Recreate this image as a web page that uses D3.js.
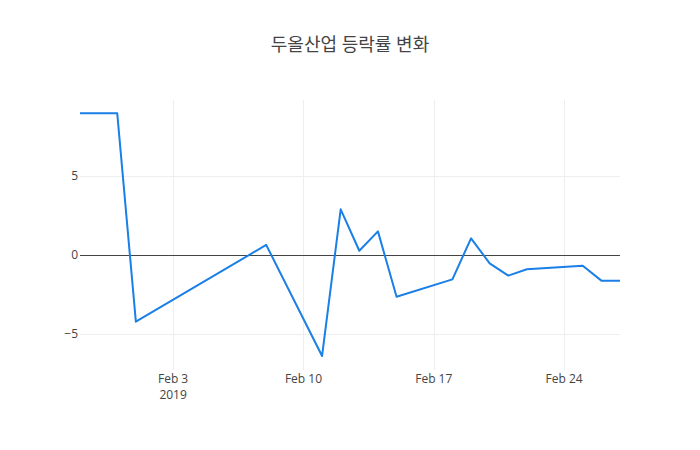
<!DOCTYPE html>
<html lang="ko">
<head>
<meta charset="utf-8">
<script src="https://cdn.jsdelivr.net/npm/d3@7"></script>
<style>
	body { margin: 0; background: #fff; }
	text { font-family: "Open Sans", "Noto Sans CJK KR", sans-serif; fill: #444; }
</style>
</head>
<body>
<div id="chart"></div>
<script>
	// data
	var dates = ["2019-01-29", "2019-01-30", "2019-01-31", "2019-02-01", "2019-02-08",
		"2019-02-11", "2019-02-12", "2019-02-13", "2019-02-14", "2019-02-15",
		"2019-02-18", "2019-02-19", "2019-02-20", "2019-02-21", "2019-02-22",
		"2019-02-25", "2019-02-26", "2019-02-27"];
	var changes = [9.0, 9.0, 9.0, -4.24, 0.64,
		-6.42, 2.9, 0.27, 1.5, -2.65,
		-1.55, 1.06, -0.53, -1.31, -0.91,
		-0.68, -1.63, -1.63];
	var xTicks = ["2019-02-03", "2019-02-10", "2019-02-17", "2019-02-24"];
	var yTicks = [-5, 0, 5];
	var title = "두올산업 등락률 변화";

	var w = 700, h = 450;
	var m = {top: 100, right: 80, bottom: 80, left: 80};
	var parse = d3.timeParse("%Y-%m-%d");

	var svg = d3.select("#chart").append("svg")
		.attr("width", w).attr("height", h);

	var x = d3.scaleTime()
		.domain([parse(dates[0]), parse(dates[dates.length - 1])])
		.range([m.left, w - m.right]);
	var y = d3.scaleLinear()
		.domain([-7.31, 9.85])
		.range([h - m.bottom, m.top]);

	// snap 1px lines to the pixel grid
	function crisp(v) { return Math.round(v) + 0.5; }

	// grid
	svg.append("g").selectAll("line").data(xTicks).enter().append("line")
		.attr("x1", function(d) { return crisp(x(parse(d))); })
		.attr("x2", function(d) { return crisp(x(parse(d))); })
		.attr("y1", m.top).attr("y2", h - m.bottom)
		.attr("stroke", "#eee").attr("stroke-width", 1);
	svg.append("g").selectAll("line").data(yTicks.filter(function(d) { return d !== 0; })).enter().append("line")
		.attr("x1", m.left).attr("x2", w - m.right)
		.attr("y1", function(d) { return crisp(y(d)); })
		.attr("y2", function(d) { return crisp(y(d)); })
		.attr("stroke", "#eee").attr("stroke-width", 1);

	// zero line
	svg.append("line")
		.attr("x1", m.left).attr("x2", w - m.right)
		.attr("y1", crisp(y(0))).attr("y2", crisp(y(0)))
		.attr("stroke", "#444").attr("stroke-width", 1);

	// y labels
	svg.append("g").selectAll("text").data(yTicks).enter().append("text")
		.attr("x", m.left - 2)
		.attr("y", function(d) { return y(d) + 4; })
		.attr("text-anchor", "end")
		.attr("font-size", "12px")
		.text(function(d) { return d < 0 ? "\u2212" + Math.abs(d) : d; });

	// x labels
	var fmt = d3.timeFormat("%b %-d");
	var xl = svg.append("g").selectAll("text").data(xTicks).enter().append("text")
		.attr("x", function(d) { return x(parse(d)); })
		.attr("y", h - m.bottom + 13)
		.attr("text-anchor", "middle")
		.attr("font-size", "12px");
	xl.append("tspan").text(function(d) { return fmt(parse(d)); });
	xl.filter(function(d, i) { return i === 0; }).append("tspan")
		.attr("x", function(d) { return x(parse(d)); })
		.attr("dy", 16)
		.text(function(d) { return parse(d).getFullYear(); });

	// line
	var line = d3.line()
		.x(function(d, i) { return x(parse(dates[i])); })
		.y(function(d) { return y(d); });
	svg.append("path")
		.datum(changes)
		.attr("d", line)
		.attr("fill", "none")
		.attr("stroke", "#1a7fe6")
		.attr("stroke-width", 2)
		.attr("stroke-linejoin", "round");

	// title
	svg.append("text")
		.attr("x", w / 2).attr("y", 51)
		.attr("text-anchor", "middle")
		.attr("font-size", "18px")
		.text(title);
</script>
</body>
</html>
